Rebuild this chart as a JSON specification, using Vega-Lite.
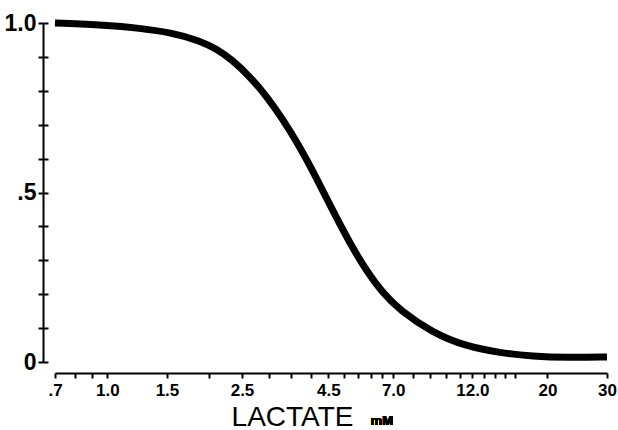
{
  "$schema": "https://vega.github.io/schema/vega-lite/v6.json",
  "width": 552,
  "height": 339,
  "autosize": "none",
  "padding": {"left": 55, "top": 23, "right": 11, "bottom": 68},
  "background": "white",
  "config": {
    "view": {"stroke": null},
    "font": "Liberation Sans",
    "axis": {"grid": false, "domainColor": "black", "tickColor": "black", "labelColor": "black", "titleColor": "black", "domainWidth": 2, "tickWidth": 2}
  },
  "data": {
    "values": [
      {"lactate": 0.7, "fraction": 1.0},
      {"lactate": 0.99, "fraction": 0.994},
      {"lactate": 1.24, "fraction": 0.985},
      {"lactate": 1.56, "fraction": 0.971},
      {"lactate": 1.87, "fraction": 0.948},
      {"lactate": 2.1, "fraction": 0.924},
      {"lactate": 2.34, "fraction": 0.891},
      {"lactate": 2.63, "fraction": 0.843},
      {"lactate": 2.95, "fraction": 0.785},
      {"lactate": 3.29, "fraction": 0.718},
      {"lactate": 3.7, "fraction": 0.636},
      {"lactate": 4.15, "fraction": 0.543},
      {"lactate": 4.63, "fraction": 0.448},
      {"lactate": 5.2, "fraction": 0.352},
      {"lactate": 5.84, "fraction": 0.268},
      {"lactate": 6.51, "fraction": 0.204},
      {"lactate": 7.31, "fraction": 0.153},
      {"lactate": 9.16, "fraction": 0.086},
      {"lactate": 11.5, "fraction": 0.046},
      {"lactate": 14.5, "fraction": 0.027},
      {"lactate": 18.1, "fraction": 0.017},
      {"lactate": 22.9, "fraction": 0.013},
      {"lactate": 30, "fraction": 0.015}
    ]
  },
  "layer": [
    {
      "mark": {"type": "line", "color": "black", "strokeWidth": 7, "interpolate": "basis", "strokeCap": "butt"},
      "encoding": {
        "x": {
          "field": "lactate",
          "type": "quantitative",
          "scale": {"type": "log", "domain": [0.7, 30], "nice": false},
          "axis": {
            "values": [0.7, 0.8, 0.9, 1, 1.5, 2, 2.5, 3, 3.5, 4, 4.5, 5, 5.5, 6, 6.5, 7, 8, 9, 10, 11, 12, 13, 14, 15, 16, 20, 30],
            "labelExpr": "datum.value==0.7?'.7':datum.value==1?'1.0':datum.value==1.5?'1.5':datum.value==2.5?'2.5':datum.value==4.5?'4.5':datum.value==7?'7.0':datum.value==12?'12.0':datum.value==20?'20':datum.value==30?'30':''",
            "offset": 11,
            "tickSize": 5,
            "labelFontSize": 17,
            "labelFontWeight": "bold",
            "labelPadding": 4,
            "labelFlush": false,
            "labelOverlap": false,
            "title": "LACTATE",
            "titleFontSize": 28,
            "titleFontWeight": "normal",
            "titleX": 237,
            "titleY": 52,
            "titleAlign": "center",
            "titleBaseline": "alphabetic"
          }
        },
        "y": {
          "field": "fraction",
          "type": "quantitative",
          "scale": {"domain": [0, 1], "nice": false},
          "axis": {
            "values": [0, 0.1, 0.2, 0.3, 0.4, 0.5, 0.6, 0.7, 0.8, 0.9, 1],
            "labelExpr": "datum.value==1?'1.0':datum.value==0.5?'.5':datum.value==0?'0':''",
            "offset": 12,
            "tickSize": 5,
            "labelFontSize": 23,
            "labelFontWeight": "bold",
            "labelPadding": 2,
            "title": null
          }
        }
      }
    },
    {
      "mark": {"type": "rule", "opacity": 0},
      "encoding": {
        "y": {
          "field": "fraction",
          "type": "quantitative",
          "scale": {"domain": [0, 1], "nice": false},
          "axis": {
            "orient": "right",
            "offset": -564,
            "values": [0, 0.1, 0.2, 0.3, 0.4, 0.5, 0.6, 0.7, 0.8, 0.9, 1],
            "labels": false,
            "domain": false,
            "tickSize": 5,
            "title": null
          }
        }
      }
    },
    {
      "mark": {"type": "text", "text": "mM", "fontSize": 13, "fontWeight": "bold", "align": "left", "baseline": "alphabetic", "color": "black"},
      "encoding": {
        "x": {"datum": 6.0, "type": "quantitative", "axis": null},
        "y": {"datum": -0.186, "type": "quantitative", "axis": null}
      }
    }
  ],
  "resolve": {"axis": {"y": "independent", "x": "independent"}}
}
